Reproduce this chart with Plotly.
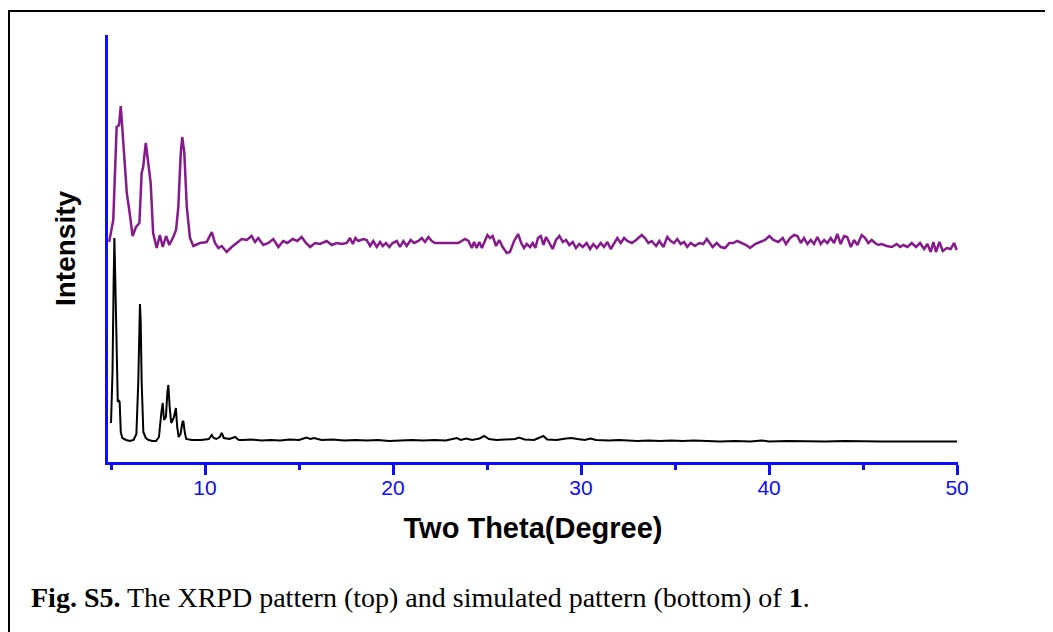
import plotly.graph_objects as go

# ---------------- data ----------------
# Experimental XRPD pattern (top, purple) — two theta (deg) and intensity (a.u.)
purple_two_theta = [
    4.90, 5.12, 5.30, 5.43, 5.52, 5.65, 5.84, 5.97, 6.15, 6.33, 6.51, 6.63, 6.71, 6.85, 6.98,
    7.11, 7.24, 7.43, 7.60, 7.75, 7.93, 8.10, 8.31, 8.46, 8.58, 8.71, 8.79, 8.90, 9.03, 9.20,
    9.38, 9.73, 10.09, 10.36, 10.53, 10.71, 10.89, 11.15, 11.42, 11.69, 11.95, 12.22, 12.48,
    12.66, 12.83, 13.10, 13.37, 13.63, 13.90, 14.16, 14.38, 14.66, 14.91, 15.14, 15.37, 15.59,
    15.85, 16.12, 16.47, 16.74, 17.01, 17.27, 17.54, 17.71, 17.86, 18.00, 18.15, 18.42, 18.60,
    18.78, 18.95, 19.13, 19.31, 19.45, 19.63, 19.80, 19.98, 20.20, 20.37, 20.55, 20.73, 20.94,
    21.12, 21.35, 21.53, 21.70, 21.88, 22.06, 22.23, 22.50, 22.86, 23.21, 23.47, 23.83, 24.01,
    24.19, 24.31, 24.45, 24.59, 24.73, 24.88, 25.02, 25.16, 25.30, 25.48, 25.65, 25.83, 26.05,
    26.22, 26.44, 26.65, 26.82, 26.97, 27.11, 27.29, 27.43, 27.57, 27.71, 27.86, 28.00, 28.14,
    28.31, 28.49, 28.67, 28.85, 29.03, 29.20, 29.38, 29.56, 29.73, 29.91, 30.09, 30.30, 30.48,
    30.65, 30.84, 31.05, 31.22, 31.40, 31.58, 31.76, 31.93, 32.11, 32.29, 32.46, 32.70, 32.93,
    33.23, 33.40, 33.58, 33.76, 33.99, 34.17, 34.38, 34.59, 34.77, 34.95, 35.12, 35.30, 35.48,
    35.65, 35.83, 36.06, 36.29, 36.50, 36.69, 37.00, 37.22, 37.43, 37.66, 37.89, 38.10, 38.31,
    38.55, 38.78, 38.99, 39.26, 39.52, 39.79, 40.02, 40.23, 40.49, 40.73, 40.90, 41.12, 41.33,
    41.51, 41.69, 41.86, 42.04, 42.22, 42.39, 42.57, 42.75, 42.93, 43.10, 43.28, 43.46, 43.63,
    43.81, 43.99, 44.16, 44.35, 44.52, 44.70, 44.93, 45.11, 45.28, 45.46, 45.64, 45.81, 45.99,
    46.26, 46.53, 46.79, 46.97, 47.14, 47.36, 47.59, 47.82, 48.03, 48.25, 48.42, 48.60, 48.74,
    48.88, 49.06, 49.24, 49.45, 49.66, 49.84, 49.98,
]
purple_intensity = [
    220, 242, 335, 337, 356, 319, 269, 252, 226, 235, 239, 289, 295, 319, 299,
    279, 229, 214, 227, 215, 226, 217, 225, 232, 255, 309, 325, 309, 255, 224,
    216, 219, 220, 230, 219, 214, 216, 210, 215, 219, 223, 222, 226,
    220, 224, 217, 219, 223, 215, 221, 219, 223, 221, 225, 219, 215,
    219, 218, 221, 217, 219, 218, 219, 224, 218, 224, 221, 223, 222,
    216, 221, 215, 220, 216, 219, 215, 219, 221, 215, 221, 216, 222,
    219, 221, 224, 220, 225, 221, 219, 219, 219, 219, 219, 223, 221,
    214, 220, 214, 220, 214, 221, 227, 224, 226, 216, 222, 215, 209,
    210, 221, 228, 219, 214, 218, 215, 219, 214, 224, 226, 217, 225,
    219, 213, 222, 226, 220, 222, 217, 220, 214, 218, 215, 219, 213,
    218, 214, 219, 215, 220, 213, 218, 224, 219, 224, 221, 219, 222,
    227, 224, 219, 221, 216, 221, 215, 225, 221, 219, 223, 218, 220,
    215, 219, 216, 219, 218, 223, 215, 219, 215, 214, 219, 219, 221,
    219, 217, 214, 218, 220, 222, 226, 222, 220, 224, 218, 224, 227,
    226, 219, 224, 218, 222, 218, 225, 218, 222, 219, 224, 219, 228,
    218, 226, 225, 215, 222, 217, 227, 224, 219, 222, 219, 217, 218,
    216, 215, 218, 215, 217, 215, 219, 215, 219, 213, 218, 210, 220,
    210, 220, 211, 214, 213, 219, 212,
]

# Simulated pattern (bottom, black)
black_two_theta = [
    5.00, 5.08, 5.14, 5.18, 5.23, 5.30, 5.36, 5.42, 5.46, 5.52, 5.60, 5.80, 6.00, 6.20, 6.35,
    6.45, 6.50, 6.54, 6.58, 6.63, 6.72, 6.85, 7.00, 7.20, 7.40, 7.55, 7.68, 7.75, 7.82, 7.92,
    8.00, 8.05, 8.12, 8.20, 8.28, 8.35, 8.45, 8.52, 8.60, 8.70, 8.80, 8.85, 8.92, 9.00, 9.30,
    9.80, 10.20, 10.36, 10.46, 10.60, 10.78, 10.89, 11.00, 11.30, 11.60, 11.80, 12.00, 12.50,
    13.00, 13.50, 14.00, 14.50, 15.00, 15.40, 15.60, 15.80, 16.20, 16.80, 17.40, 18.00, 18.60,
    19.20, 19.80, 20.40, 21.00, 21.60, 22.20, 22.80, 23.40, 23.60, 23.90, 24.20, 24.60, 24.85,
    25.10, 25.50, 26.00, 26.50, 26.70, 27.00, 27.50, 28.00, 28.20, 28.70, 29.20, 29.50, 29.80,
    30.20, 30.50, 30.80, 31.50, 32.00, 32.50, 33.00, 33.60, 34.20, 34.80, 35.40, 36.00, 36.60,
    37.40, 38.20, 39.00, 39.60, 40.00, 41.00, 42.00, 43.00, 44.00, 45.00, 46.00, 47.00, 48.00,
    49.00, 50.00,
]
black_intensity = [
    39, 90, 180, 224, 180, 90, 60, 62, 60, 30, 24, 22, 21, 22, 28,
    80, 140, 158, 140, 80, 30, 24, 22, 21, 21, 25, 50, 59, 42, 45,
    70, 77, 55, 39, 42, 45, 54, 35, 25, 28, 40, 41, 30, 23, 22,
    22, 23, 27, 24, 23, 25, 29, 24, 23, 25, 22, 22, 22.5,
    21.5, 22, 21.5, 22.5, 22, 24.5, 23, 24, 22, 22.5, 21.5, 22, 21.5,
    22, 21, 21.5, 22, 21.5, 22, 21.5, 24, 22, 23.5, 22, 23.5, 26,
    23, 22, 22.5, 23, 24.5, 22.5, 22, 26, 22.5, 22, 23.5, 24, 23,
    22, 23.5, 22, 21.5, 22, 21.5, 21, 21.5, 21, 21.5, 21, 21.5, 21,
    20.5, 21, 20.5, 21.5, 20.5, 21, 20.5, 20.5, 21, 20.5, 20.5, 20.5, 20.5,
    20.5, 20.5,
]

x_tick_values = [10, 20, 30, 40, 50]
x_tick_labels = ["10", "20", "30", "40", "50"]

# ---------------- figure ----------------
# The page body has an 8 px margin, so the figure is 8 px smaller than the window.
OFF = 8
W, H = 1053 - OFF, 632 - OFF
ML, MR, MT, MB = 108 - OFF, 1053 - 958, 35 - OFF, 632 - 462
PW, PH = W - ML - MR, H - MT - MB
BLUE = "#0c0cff"

fig = go.Figure()
fig.add_trace(go.Scatter(x=black_two_theta, y=black_intensity, mode="lines",
                         line=dict(color="black", width=2), hoverinfo="skip"))
fig.add_trace(go.Scatter(x=purple_two_theta, y=purple_intensity, mode="lines",
                         line=dict(color="#861a8c", width=2.5), hoverinfo="skip"))

def px_x(p):  # page pixel -> paper fraction
    return (p - OFF - ML) / PW

def px_y(p):
    return (H - MB - (p - OFF)) / PH

fig.update_layout(
    width=W, height=H,
    margin=dict(l=ML, r=MR, t=MT, b=MB, pad=0),
    paper_bgcolor="white", plot_bgcolor="white",
    showlegend=False,
    xaxis=dict(
        range=[4.84, 50.05], showgrid=False, zeroline=False,
        showline=True, linecolor=BLUE, linewidth=3,
        tickmode="array", tickvals=x_tick_values, ticktext=x_tick_labels,
        ticks="outside", ticklen=10, tickwidth=3, tickcolor=BLUE,
        ticklabelstandoff=-5,
        minor=dict(dtick=5, tick0=0, ticks="outside", ticklen=5, tickwidth=3, tickcolor=BLUE),
        tickfont=dict(family="Liberation Sans, Arial", size=21, color=BLUE),
        title=dict(text="<b>Two Theta(Degree)</b>", standoff=20,
                   font=dict(family="Liberation Sans, Arial", size=29, color="black")),
    ),
    yaxis=dict(
        range=[0, 427], showgrid=False, zeroline=False,
        showline=True, linecolor=BLUE, linewidth=3,
        showticklabels=False, ticks="",
        title=dict(text="<b>Intensity</b>", standoff=22,
                   font=dict(family="Liberation Sans, Arial", size=28, color="black")),
    ),
    shapes=[dict(type="rect", xref="paper", yref="paper",
                 x0=px_x(9), x1=px_x(1070), y0=px_y(650), y1=px_y(11),
                 line=dict(color="black", width=2), fillcolor="rgba(0,0,0,0)", layer="below")],
    annotations=[dict(
        text="<b>Fig. S5.</b> The XRPD pattern (top) and simulated pattern (bottom) of <b>1</b>.",
        xref="paper", yref="paper", x=px_x(29), y=px_y(597),
        xanchor="left", yanchor="middle", showarrow=False,
        font=dict(family="Liberation Serif, Times New Roman", size=28, color="black"),
    )],
)

fig.write_html("out.html")
